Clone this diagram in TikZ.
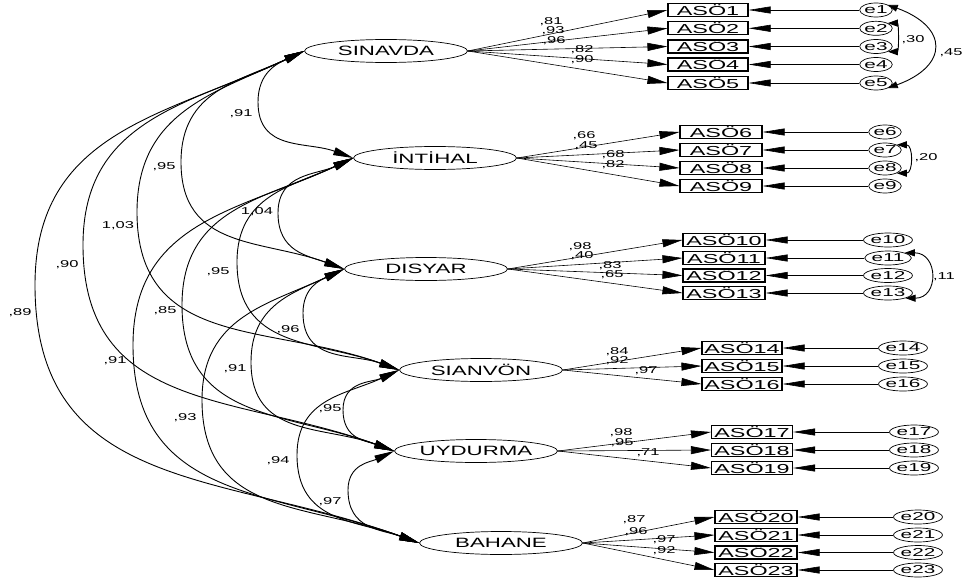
\documentclass[tikz,border=0pt]{standalone}
\usepackage{fontspec}
\setmainfont{Liberation Sans}
\newfontfamily\amosA[FakeStretch=1.8]{Liberation Sans}
\newfontfamily\amosB[FakeStretch=1.65]{Liberation Sans}
\usetikzlibrary{arrows.meta,shapes.geometric}
\begin{document}
\begin{tikzpicture}[x=1pt,y=1pt,
  lat/.style={ellipse,draw,line width=0.7pt,minimum width=163pt,minimum height=23pt,inner sep=0pt,font=\amosB\fontsize{13.5}{13.5}\selectfont},
  obs/.style={draw,line width=1.1pt,minimum width=#1,minimum height=13pt,inner sep=0pt,font=\amosA\fontsize{13}{13}\selectfont},
  err/.style={ellipse,draw,line width=0.7pt,minimum width=26pt,minimum height=14pt,inner sep=0pt,font=\amosA\fontsize{11.5}{11.5}\selectfont},
  lab/.style={inner sep=0pt,font=\amosB\fontsize{10}{10}\selectfont},
  load/.style={-{Triangle[length=20pt,width=8pt]},line width=0.6pt},
  errarr/.style={-{Triangle[length=22pt,width=7pt]},line width=0.6pt},
  cov/.style={{Triangle[length=20pt,width=8pt]}-{Triangle[length=20pt,width=8pt]},line width=0.9pt},
  ecov/.style={{Triangle[length=10pt,width=7pt]}-{Triangle[length=10pt,width=7pt]},line width=0.9pt}
]
\useasboundingbox (0,0) rectangle (966,-586);

% latent variables
\node[lat] (S)  at (386,-51)  {SINAVDA};
\node[lat] (I)  at (435,-158) {İNTİHAL};
\node[lat] (D)  at (426,-269) {DISYAR};
\node[lat] (SV) at (481,-370) {SIANVÖN};
\node[lat] (U)  at (476,-451) {UYDURMA};
\node[lat] (B)  at (501,-543) {BAHANE};

% observed variables and errors
\foreach \n/\y in {1/10,2/28.3,3/46.5,4/64.5,5/83}{
  \node[obs=80pt] (A\n) at (708,-\y) {ASÖ\n};
  \node[err] (e\n) at (876,-\y) {e\n};
  \draw[load] (S.east) -- (A\n.west);
  \draw[errarr] (e\n.west) -- (A\n.east);
}
\foreach \n/\y in {6/132,7/150,8/168,9/186}{
  \node[obs=82pt] (A\n) at (721,-\y) {ASÖ\n};
  \node[err] (e\n) at (885,-\y) {e\n};
  \draw[load] (I.east) -- (A\n.west);
  \draw[errarr] (e\n.west) -- (A\n.east);
}
\foreach \n/\y in {10/240,11/258,12/275.5,13/293}{
  \node[obs=82pt] (A\n) at (724,-\y) {ASÖ\n};
  \node[err] (e\n) at (888,-\y) {e\n};
  \draw[load] (D.east) -- (A\n.west);
  \draw[errarr] (e\n.west) -- (A\n.east);
}
\foreach \n/\y in {14/348,15/366,16/384}{
  \node[obs=80pt] (A\n) at (742,-\y) {ASÖ\n};
  \node[err] (e\n) at (903,-\y) {e\n};
  \draw[load] (SV.east) -- (A\n.west);
  \draw[errarr] (e\n.west) -- (A\n.east);
}
\foreach \n/\y in {17/432,18/450,19/468}{
  \node[obs=81pt] (A\n) at (752,-\y) {ASÖ\n};
  \node[err] (e\n) at (914,-\y) {e\n};
  \draw[load] (U.east) -- (A\n.west);
  \draw[errarr] (e\n.west) -- (A\n.east);
}
\foreach \n/\y in {20/517,21/535,22/552.5,23/570}{
  \node[obs=82pt] (A\n) at (756,-\y) {ASÖ\n};
  \node[err] (e\n) at (918,-\y) {e\n};
  \draw[load] (B.east) -- (A\n.west);
  \draw[errarr] (e\n.west) -- (A\n.east);
}

% loading labels
\foreach \t/\x/\y [count=\i] in {{,81}/551/22, {,93}/553/31, {,96}/554/41, {,82}/582/50, {,90}/582/60,
  {,66}/584/136, {,45}/586/146, {,68}/613/155, {,82}/613/165,
  {,98}/580/247, {,40}/582/256, {,83}/610/266, {,65}/612/275,
  {,84}/617/352, {,92}/617/361, {,97}/646/371,
  {,98}/621/433, {,95}/622/443, {,71}/648/453,
  {,87}/634/520, {,96}/636/532, {,97}/664/540, {,92}/664/551}{
  \node[lab] (ll\i) at (\x,-\y) {\t};
}

% error covariances
\draw[ecov] (e1.north east) to[out=-20,in=20,looseness=2.0] (e5.south east);
\node[lab] (c15) at (951,-53) {,45};
\draw[ecov] (e2.north east) to[out=0,in=0,looseness=1.0] (e3.south east);
\node[lab] (c23) at (913,-40) {,30};
\draw[ecov] (e7.north east) to[out=0,in=0,looseness=1.5] (e8.south east);
\node[lab] (c78) at (926,-158) {,20};
\draw[ecov] (e11.north east) to[out=0,in=0,looseness=1.9] (e13.south east);
\node[lab] (c1113) at (944,-277) {,11};

% factor correlations
\foreach \a/\b/\lx/\ly/\t/\tx/\ty [count=\i] in {
  S/I/258/102/{,91}/241/114,
  S/D/181/162/{,95}/164/167,
  S/SV/137/212/{1,03}/118/226,
  S/U/83/245/{,90}/67/265,
  S/B/35/285/{,89}/20/313,
  I/D/278/213/{1,04}/257/212,
  I/SV/237/262/{,95}/218/272,
  I/U/182/305/{,85}/165/311,
  I/B/133/345/{,91}/115/361,
  D/SV/303/313/{,96}/288/330,
  D/U/251/362/{,91}/235/369,
  D/B/202/400/{,93}/185/418,
  SV/U/343/410/{,95}/330/409,
  SV/B/297/455/{,94}/278/461,
  U/B/348/490/{,97}/330/502}{
  \coordinate (w\i) at (\lx,-\ly);
  \draw[cov] (\a.west) to[out=205,in=90,looseness=1.1] (w\i) to[out=270,in=160,looseness=1.15] (\b.west);
  \node[lab] (r\i) at (\tx,-\ty) {\t};
}
\end{tikzpicture}
\end{document}
